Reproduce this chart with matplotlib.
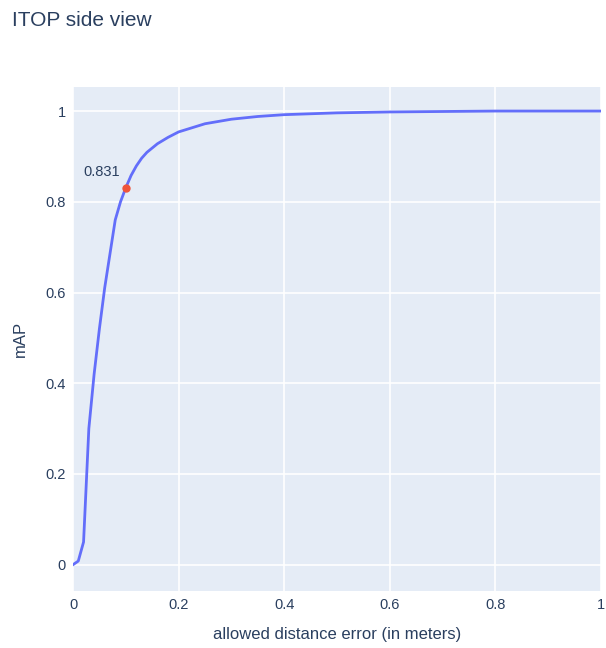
import matplotlib.pyplot as plt

# mAP as a function of the allowed distance error
dist = [0, 0.01, 0.02, 0.03, 0.04, 0.05, 0.06, 0.07, 0.08, 0.09, 0.10,
        0.11, 0.12, 0.13, 0.14, 0.16, 0.18, 0.20, 0.25, 0.30, 0.35, 0.40, 0.50,
        0.60, 0.70, 0.80, 0.90, 1.0]
m_ap = [0, 0.008, 0.05, 0.30, 0.42, 0.52, 0.61, 0.685, 0.76, 0.80, 0.831,
        0.858, 0.879, 0.896, 0.909, 0.928, 0.942, 0.954, 0.972, 0.982, 0.988,
        0.992, 0.996, 0.998, 0.999, 1.0, 1.0, 1.0]

# highlighted point
hl_x = 0.1
hl_y = 0.831

text_col = '#2a3f5f'
plt.rcParams['font.family'] = ['Liberation Sans', 'DejaVu Sans']

fig = plt.figure(figsize=(6.06, 6.48), dpi=100)
ax = fig.add_axes([73 / 606, 1 - 591 / 648, 528 / 606, 504 / 648])
ax.set_facecolor('#E5ECF6')

ax.plot(dist, m_ap, color='#636efa', lw=2, zorder=3)
ax.scatter([hl_x], [hl_y], s=36, color='#EF553B', zorder=4, linewidths=0)
ax.annotate('%.3f' % hl_y, (hl_x, hl_y), xytext=(-4, 6), textcoords='offset points',
            ha='right', va='bottom', fontsize=10.5, color=text_col)

ax.set_xlim(0, 1)
ax.set_ylim(-0.058, 1.053)
ax.set_xticks([0, 0.2, 0.4, 0.6, 0.8, 1])
ax.set_xticklabels(['0', '0.2', '0.4', '0.6', '0.8', '1'])
ax.set_yticks([0, 0.2, 0.4, 0.6, 0.8, 1])
ax.set_yticklabels(['0', '0.2', '0.4', '0.6', '0.8', '1'])
ax.grid(color='white', lw=1.2)
ax.set_axisbelow(True)
for s in ax.spines.values():
    s.set_visible(False)
ax.tick_params(length=0, labelsize=10.5, labelcolor=text_col, pad=5)

ax.set_xlabel('allowed distance error (in meters)', fontsize=12, color=text_col, labelpad=11)
ax.set_ylabel('mAP', fontsize=12, color=text_col, labelpad=13)
fig.text(12 / 606, 1 - 20 / 648, 'ITOP side view', fontsize=15, color=text_col,
         ha='left', va='center')

fig.savefig('out.png', dpi=100)
